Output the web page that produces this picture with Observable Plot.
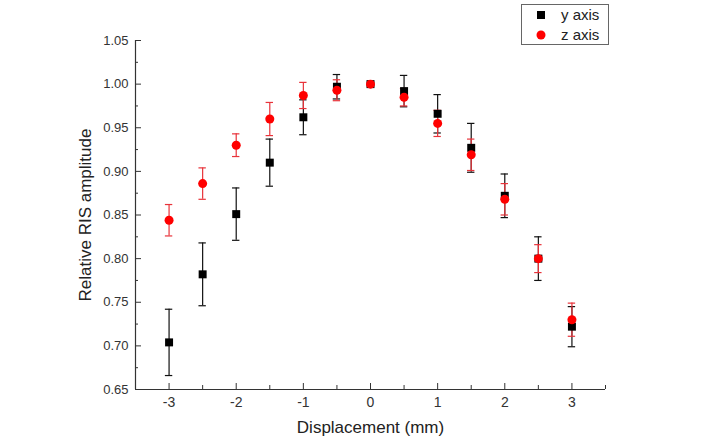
<!DOCTYPE html>
<html>
<head>
<meta charset="utf-8">
<script src="https://cdn.jsdelivr.net/npm/d3@7"></script>
<script src="https://cdn.jsdelivr.net/npm/@observablehq/plot@0.6"></script>
<style>
  body { margin: 0; background: #fff; font-family: "Liberation Sans", Arial, sans-serif; }
  #wrap { position: relative; width: 712px; height: 443px; }
  #legend { position: absolute; left: 521px; top: 4px; width: 86px; height: 39px; border: 1px solid #666; background: #fff; font-size: 15px; color: #222; }
  .row { position: absolute; left: 0; height: 20px; display: flex; align-items: center; }
  .sym { position: absolute; left: 14px; }
  .lab { position: absolute; left: 39px; white-space: nowrap; line-height: 18px; }
</style>
</head>
<body>
<div id="wrap">
  <div id="chart"></div>
  <div id="legend">
    <div class="row" style="top:0px;"><svg class="sym" width="10" height="20" style="top:0"><rect x="1" y="6" width="8" height="8" fill="#000"/></svg><span class="lab" style="top:1px">y axis</span></div>
    <div class="row" style="top:20px;"><svg class="sym" width="10" height="20" style="top:0"><circle cx="5" cy="10" r="4.5" fill="#f00"/></svg><span class="lab" style="top:1px">z axis</span></div>
  </div>
</div>
<script>
const displacement = [-3, -2.5, -2, -1.5, -1, -0.5, 0, 0.5, 1, 1.5, 2, 2.5, 3];
const yAxisValues = [0.704, 0.782, 0.851, 0.910, 0.962, 0.997, 1.000, 0.992, 0.966, 0.927, 0.872, 0.800, 0.722];
const yAxisErrors = [0.038, 0.036, 0.030, 0.027, 0.020, 0.014, 0.000, 0.018, 0.022, 0.028, 0.025, 0.025, 0.023];
const zAxisValues = [0.844, 0.886, 0.930, 0.960, 0.987, 0.993, 1.000, 0.985, 0.955, 0.919, 0.868, 0.800, 0.730];
const zAxisErrors = [0.018, 0.018, 0.013, 0.019, 0.015, 0.012, 0.000, 0.010, 0.015, 0.018, 0.018, 0.016, 0.019];
const xTicks = [-3, -2, -1, 0, 1, 2, 3];
const xMinorTicks = [-3.5, -2.5, -1.5, -0.5, 0.5, 1.5, 2.5, 3.5];
const yTicks = [0.65, 0.70, 0.75, 0.80, 0.85, 0.90, 0.95, 1.00, 1.05];
const yMinorTicks = [0.675, 0.725, 0.775, 0.825, 0.875, 0.925, 0.975, 1.025];
const xLabel = "Displacement (mm)";
const yLabel = "Relative RIS amplitude";

const capHalf = 0.055;
const ySeries = displacement.map((x, i) => ({x, v: yAxisValues[i], e: yAxisErrors[i]}));
const zSeries = displacement.map((x, i) => ({x, v: zAxisValues[i], e: zAxisErrors[i]}));
const caps = s => s.flatMap(d => d.e > 0 ? [
  {x1: d.x - capHalf, x2: d.x + capHalf, y: d.v + d.e},
  {x1: d.x - capHalf, x2: d.x + capHalf, y: d.v - d.e}] : []);

const axisColor = "#333";
const chart = Plot.plot({
  width: 712, height: 443,
  marginLeft: 135, marginRight: 107, marginTop: 40, marginBottom: 54,
  style: {fontFamily: "'Liberation Sans', Arial, sans-serif", fontSize: "12px", color: axisColor, background: "#fff"},
  x: {domain: [-3.5, 3.5]},
  y: {domain: [0.65, 1.05]},
  marks: [
    Plot.axisX({ticks: xTicks, tickSize: -6, tickPadding: 14, tickFormat: d => String(d), fontSize: 14, stroke: axisColor, label: null}),
    Plot.axisX({ticks: xMinorTicks, tickSize: -4, text: null, stroke: axisColor, label: null}),
    Plot.axisY({ticks: yTicks, tickSize: -6, tickPadding: 13, tickFormat: d3.format(".2f"), fontSize: 13, stroke: axisColor, label: null}),
    Plot.axisY({ticks: yMinorTicks, tickSize: -3, text: null, stroke: axisColor, label: null}),
    Plot.text([xLabel], {text: d => d, frameAnchor: "bottom", dy: 38, lineAnchor: "middle", textAnchor: "middle", fontSize: 17, fill: "#222"}),
    Plot.text([yLabel], {text: d => d, frameAnchor: "left", dx: -50, rotate: -90, lineAnchor: "middle", textAnchor: "middle", fontSize: 17, fill: "#222"}),
    Plot.ruleX([-3.5], {stroke: axisColor, strokeWidth: 1.2}),
    Plot.ruleY([0.65], {stroke: axisColor, strokeWidth: 1.2}),
    // y axis series (black)
    Plot.ruleX(ySeries.filter(d => d.e > 0), {x: "x", y1: d => d.v - d.e, y2: d => d.v + d.e, stroke: "#111", strokeWidth: 1.2}),
    Plot.ruleY(caps(ySeries), {y: "y", x1: "x1", x2: "x2", stroke: "#111", strokeWidth: 1.2}),
    // z axis series (red)
    Plot.ruleX(zSeries.filter(d => d.e > 0), {x: "x", y1: d => d.v - d.e, y2: d => d.v + d.e, stroke: "#e8333a", strokeWidth: 1.2}),
    Plot.ruleY(caps(zSeries), {y: "y", x1: "x1", x2: "x2", stroke: "#e8333a", strokeWidth: 1.2}),
    Plot.dot(ySeries, {x: "x", y: "v", symbol: "square", r: 4.5, fill: "#000", stroke: "none"}),
    Plot.dot(zSeries, {x: "x", y: "v", symbol: "circle", r: 4.5, fill: "#f00", stroke: "none"})
  ]
});
document.getElementById("chart").appendChild(chart);
</script>
</body>
</html>
